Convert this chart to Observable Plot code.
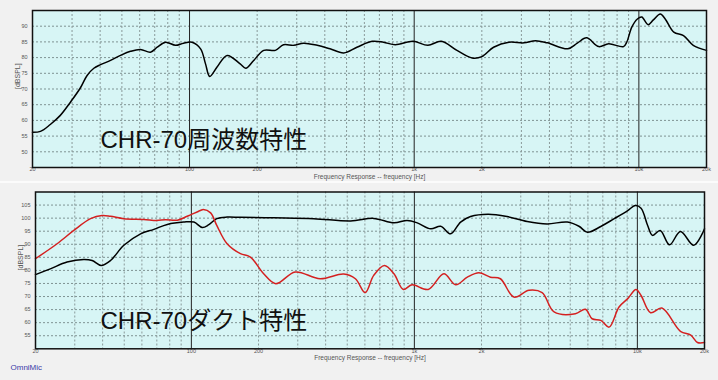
<!DOCTYPE html>
<html><head><meta charset="utf-8">
<script src="https://cdn.jsdelivr.net/npm/d3@7"></script>
<script src="https://cdn.jsdelivr.net/npm/@observablehq/plot@0.6"></script>
<style>
body{margin:0;background:#ffffff;}
#wrap{width:718px;height:380px;position:relative;overflow:hidden;background:#fbfbfb;}
.panel{position:absolute;left:0;width:718px;background:#f1f1f1;}
.panel svg{display:block;}
</style></head><body><div id="wrap"></div>
<script>
// ---- data ----
const topFreq = [20,21.7,24,26.6,29.5,32.7,35,37.5,40,44.5,49.3,54.6,60.5,67,71.8,78.2,86.6,94,102.6,112,117.8,123,132.6,147,168,178,193,214,241,262,291,322,370,422,486,556,650,730,824,988,1150,1320,1550,1810,2000,2256,2640,3080,3470,3915,4830,5320,5850,6630,7340,8540,8830,9300,9850,10300,11000,11600,12460,13100,14300,15800,17460,20000];
const topSpl  = [56.2,56.5,58.7,61.6,65.8,70.4,74.3,76.6,77.7,79.1,80.7,82.0,82.6,81.7,83.3,84.9,83.9,84.6,84.9,82.8,78,74,77,80.7,78,76.6,79.1,82.3,82.3,84.1,83.9,84.6,83.9,82.8,81.5,83.3,85.2,84.9,84.1,85.2,83.9,85.2,82.3,79.9,80.3,83.3,84.9,84.7,85.4,84.7,82.8,84.6,86.3,83.5,84.4,83.5,84.9,89.7,92.3,92.9,90.5,92,93.9,92.3,88.1,87,83.9,82.3];

const ductBlackFreq = [20,23.3,27.7,32.9,35.9,39.4,43.4,49.8,59.2,67.9,78,92.4,102.6,112,119.8,130,144.6,166,234,354,518,657,810,928,1030,1184,1312,1454,1612,1786,2140,2606,3206,3940,4850,5470,5970,6854,7876,9054,9774,10390,11120,11700,12660,13940,15600,17900,20000];
const ductBlackSpl  = [78.4,80.6,83.2,84.2,83.8,81.9,83.8,89.6,94.0,95.7,97.6,98.5,98.5,96.4,97.5,99.8,100.4,100.3,100.1,99.8,98.9,99.9,98.2,99.1,98.2,95.9,96.9,94.0,98.5,100.6,101.5,100.6,98.7,97.8,98.5,96.9,94.6,96.8,99.8,102.9,104.8,103.8,97.2,93.4,95.3,89.8,94.9,89.6,95.9];

const ductRedFreq = [20,25,29.7,35.3,39.8,43.4,49.8,61.2,70,76.5,86.5,95.8,109.8,113,122,130,144.6,166,184,211,239,292,378,482,544,602,657,734,810,892,976,1154,1356,1532,1728,1946,2194,2430,2796,3264,3740,4232,5272,5846,6268,6854,7468,8276,9054,9860,10390,11460,12880,15600,17360,18600,20000];
const ductRedSpl  = [84.5,90.2,95.3,99.8,101,100.7,99.8,99.5,99.1,99.4,99.2,100.7,102.9,103.3,102,97.2,90.2,86.4,85.1,78.7,74.9,79.4,76.8,78.6,76.8,71.5,78.1,81.9,78.7,72.7,74.5,72.7,78.7,74.5,77.4,79.1,77.4,76.8,69.8,72.4,71.5,64.1,63.4,65.1,61.5,60.9,58.3,66,69.2,72.7,70.4,63.8,65.6,56.7,55.2,52.4,52.4];

const xTickValues = [20,50,100,200,500,1000,2000,5000,10000,20000];
const xTickLabels = ["20","50","100","200","500","1k","2k","5k","10k","20k"];
const xMinorGrid = [30,40,50,60,70,80,90,200,300,400,500,600,700,800,900,2000,3000,4000,5000,6000,7000,8000,9000];
const xMajorGrid = [100,1000,10000];
const topYTicks = [50,55,60,65,70,75,80,85,90];
const ductYTicks = [55,60,65,70,75,80,85,90,95,100,105];

const topTitle = "CHR-70周波数特性";
const ductTitle = "CHR-70ダクト特性";
const xLabel = "Frequency Response -- frequency [Hz]";
const yLabel = "[dBSPL]";
const brand = "OmniMic";

// ---- drawing ----
const wrap = document.getElementById("wrap");
const fontFamily = "'Liberation Sans', Arial, 'Noto Sans CJK JP', sans-serif";

function panel({top, height, margins, yDomain, yTicks, series, title, extra}) {
  const [mt, mr, mb, ml] = margins;
  const div = document.createElement("div");
  div.className = "panel";
  div.style.top = top + "px";
  div.style.height = height + "px";
  const tickLabel = d => xTickLabels[xTickValues.indexOf(d)];
  const marks = [
    Plot.frame({fill: "#d7f5f5", stroke: "none"}),
    Plot.ruleY(yTicks, {stroke: "#7f9393", strokeDasharray: "2,2", strokeWidth: 1}),
    Plot.ruleX(xMinorGrid, {stroke: "#8a9a9a", strokeDasharray: "2,2", strokeWidth: 1}),
    Plot.ruleX(xMajorGrid, {stroke: "#222", strokeWidth: 1}),
    Plot.axisX({ticks: xTickValues, tickFormat: tickLabel, tickSize: 0, tickPadding: 0, fontSize: 5.5, fill: "#555", label: null}),
    Plot.axisY({ticks: yTicks, tickSize: 0, tickPadding: 5, fontSize: 5.5, fill: "#555", label: null}),
    Plot.text([xLabel], {text: d => d, frameAnchor: "bottom", dy: 7, lineAnchor: "top", fontSize: 6.5, fill: "#555"}),
    Plot.text([yLabel], {text: d => d, frameAnchor: "left", dx: -15, rotate: -90, fontSize: 7, fill: "#555"}),
    Plot.text([title], {text: d => d, frameAnchor: "bottom-left", dx: 68 - (ml - 32), dy: -20, lineAnchor: "bottom", textAnchor: "start", fontSize: 24, fill: "#111", fontFamily: "'Liberation Sans', 'Noto Sans CJK JP', sans-serif"})
  ];
  for (const s of series) {
    marks.push(Plot.line(s.freq.map((f, i) => ({f, v: s.spl[i]})), {x: "f", y: "v", stroke: s.color, strokeWidth: 1.5, curve: "catmull-rom"}));
  }
  if (extra) marks.push(...extra);
  marks.push(Plot.frame({stroke: "#111", strokeWidth: 1.5}));
  const chart = Plot.plot({
    width: 718, height,
    marginTop: mt, marginRight: mr, marginBottom: mb, marginLeft: ml,
    style: {background: "transparent", fontFamily, overflow: "visible"},
    x: {type: "log", domain: [20, 20000], axis: null},
    y: {domain: yDomain, axis: null},
    marks
  });
  div.appendChild(chart);
  wrap.appendChild(div);
}

panel({
  top: 0, height: 181, margins: [10, 12, 14, 32],
  yDomain: [45, 95], yTicks: topYTicks,
  series: [{freq: topFreq, spl: topSpl, color: "#000"}],
  title: topTitle
});

panel({
  top: 183, height: 197, margins: [8.5, 14, 31.7, 35],
  yDomain: [50, 110], yTicks: ductYTicks,
  series: [
    {freq: ductBlackFreq, spl: ductBlackSpl, color: "#000"},
    {freq: ductRedFreq, spl: ductRedSpl, color: "#d42020"}
  ],
  title: ductTitle,
  extra: [Plot.text([brand], {text: d => d, frameAnchor: "bottom-left", dx: -25, dy: 21, textAnchor: "start", fontSize: 8, fill: "#3a3aa8"})]
});
</script></body></html>
